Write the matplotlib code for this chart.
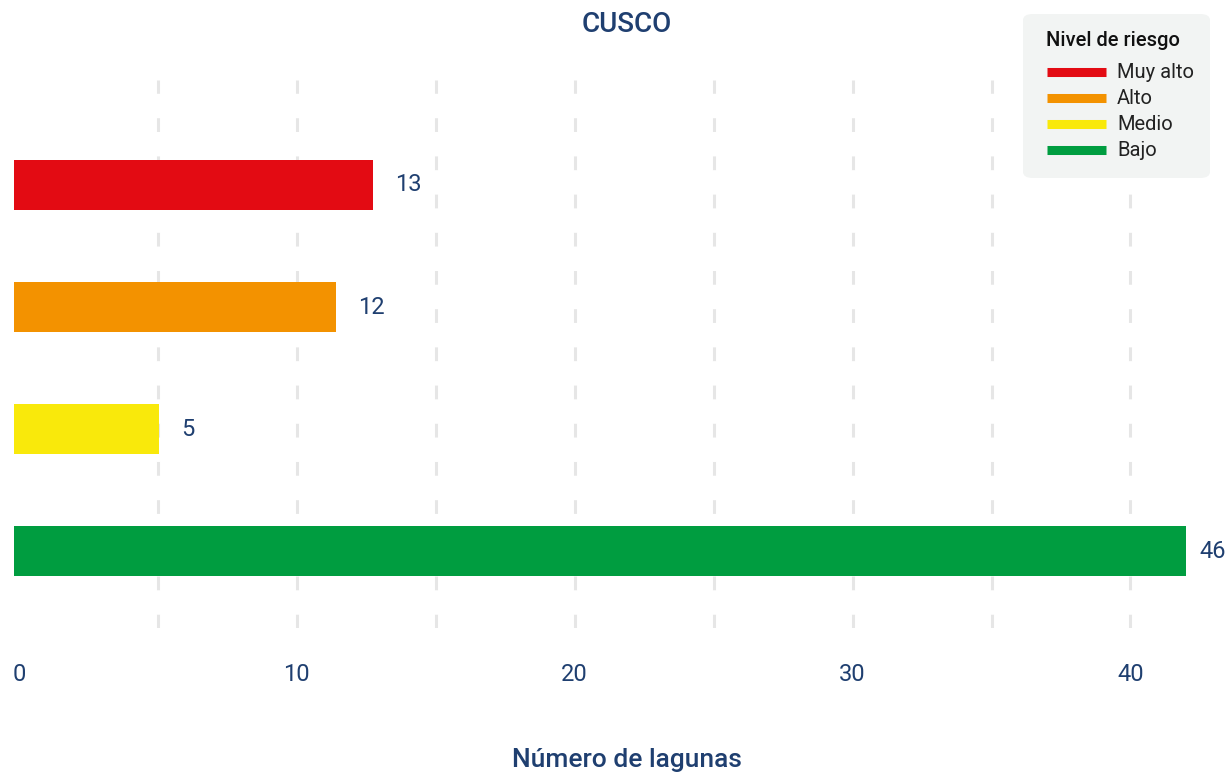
import matplotlib
matplotlib.use("Agg")
import matplotlib.pyplot as plt
from matplotlib.lines import Line2D
from matplotlib.patches import FancyBboxPatch

# Data
categories = ["Muy alto", "Alto", "Medio", "Bajo"]
value_labels = ["13", "12", "5", "46"]
bar_lengths = [12.75, 11.4, 5.05, 46]   # bar ends
colors = ["#e30b13", "#f39200", "#f9e90b", "#009d40"]
x_ticks = [0, 10, 20, 30, 40]
grid_x = [5, 10, 15, 20, 25, 30, 35, 40]

navy = "#1f3f70"
plt.rcParams["font.family"] = ["Roboto", "DejaVu Sans"]

W, H = 1231, 772
fig = plt.figure(figsize=(W / 100, H / 100), dpi=100)
ax = fig.add_axes([14 / W, 1 - 628 / H, (1186 - 14) / W, (628 - 80) / H])

x0, x1 = -0.18, 42.0
y_pos = list(range(len(categories)))

# dashed vertical gridlines
for gx in grid_x:
    ax.axvline(gx, color="#e6e6e6", linewidth=2.2, linestyle=(0, (4.5, 8)), zorder=0)

ax.barh(y_pos, [v - x0 for v in bar_lengths], left=x0, height=0.41, color=colors, zorder=2)

for y, length, lab in zip(y_pos, bar_lengths, value_labels):
    end = min(length, x1)
    off = 10 if length > x1 else 16
    ax.annotate(lab, xy=(end, y), xytext=(off, 0), textcoords="offset points",
                va="center", ha="left", fontsize=17, color=navy,
                annotation_clip=False)

ax.set_xlim(x0, x1)
ax.set_ylim(3.63, -0.86)
ax.set_yticks([])
ax.set_xticks(x_ticks)
ax.set_xticklabels([str(t) for t in x_ticks], fontsize=17, color=navy)
ax.tick_params(axis="x", length=0, pad=25)
for s in ax.spines.values():
    s.set_visible(False)

fig.text(627 / W, 1 - 25 / H, "CUSCO", ha="center", va="center",
         fontsize=20, color=navy, fontweight="medium")
fig.text(627 / W, 1 - 760 / H, "Número de lagunas", ha="center", va="center",
         fontsize=19, color=navy, fontweight="medium")

# legend box drawn by hand
box = FancyBboxPatch((1023 / W, 1 - 178 / H), (1210 - 1023) / W, (178 - 14) / H,
                     boxstyle="round,pad=0,rounding_size=0.008",
                     transform=fig.transFigure, facecolor="#f2f4f3",
                     edgecolor="none", zorder=5)
fig.patches.append(box)
fig.text(1046 / W, 1 - 40 / H, "Nivel de riesgo", ha="left", va="center",
         fontsize=14.5, color="#111111", fontweight="medium", zorder=6)
for i, (cat, c) in enumerate(zip(categories, colors)):
    yy = 1 - (72 + 26 * i) / H
    fig.add_artist(Line2D([1047 / W, 1106 / W], [yy, yy], transform=fig.transFigure,
                          color=c, linewidth=6.5, solid_capstyle="butt", zorder=6))
    fig.text(1117 / W, yy, cat, ha="left", va="center", fontsize=14.5,
             color="#222222", zorder=6)

fig.savefig("out.png", dpi=100)
